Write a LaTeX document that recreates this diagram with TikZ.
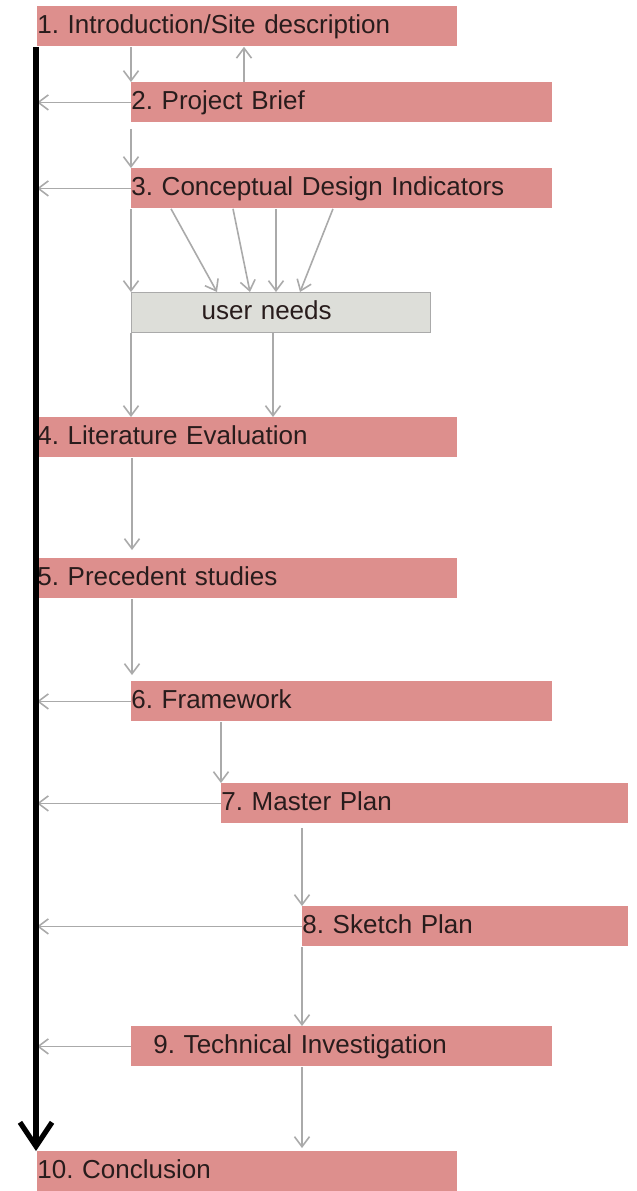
\documentclass[tikz,border=0pt]{standalone}
\usepackage{fontspec}
\newfontfamily\stagefont{Liberation Sans}
\usetikzlibrary{arrows.meta}
\definecolor{stagepink}{RGB}{221,143,141}
\definecolor{needgray}{RGB}{221,222,217}
\definecolor{flowgray}{RGB}{170,170,170}
\definecolor{ink}{RGB}{40,28,28}
\tikzset{
    stage/.style={fill=stagepink, text=ink, anchor=north west, minimum height=20pt,
        inner sep=0pt, text height=9.5pt, text depth=2.6pt, align=left,
        font={\stagefont\fontsize{13}{15}\selectfont\frenchspacing}},
    flow/.style={draw=flowgray, line width=0.8pt, -{Straight Barb[length=5pt,width=7.5pt]}},
    spine/.style={draw=black, line width=2.6pt, -{Straight Barb[length=12pt,width=16pt]}}
}

\begin{document}
\begin{tikzpicture}[x=0.5pt,y=-0.5pt]
            \useasboundingbox (0,0) rectangle (637,1191);

            % stages, placed by their top left corners
            \node[stage, text width=210pt] (b1) at (37,6) {1. Introduction/Site description};
            \node[stage, text width=210.5pt] (b2) at (131,82) {2. Project Brief};
            \node[stage, text width=210.5pt] (b3) at (131,168) {3. Conceptual Design Indicators};
            \node[stage, text width=149.5pt, fill=needgray, draw=flowgray, line width=0.6pt] (un) at (131,292) {\hspace*{35pt}user needs};
            \node[stage, text width=210pt] (b4) at (37,417) {4. Literature Evaluation};
            \node[stage, text width=210pt] (b5) at (37,558) {5. Precedent studies};
            \node[stage, text width=210.5pt] (b6) at (131,681) {6. Framework};
            \node[stage, text width=203.5pt] (b7) at (221,783) {7. Master Plan};
            \node[stage, text width=163pt] (b8) at (302,906) {8. Sketch Plan};
            \node[stage, text width=210.5pt] (b9) at (131,1026) {\hspace*{11pt}9. Technical Investigation};
            \node[stage, text width=210pt] (b10) at (37,1151) {10. Conclusion};

            % downward flow
            \draw[flow] (b2.north west |- b1.south) -- (b2.north west);
            \draw[flow] ([xshift=56.5pt]b2.north west) -- ([xshift=56.5pt]b2.north west |- b1.south);
            \draw[flow, shorten <=3pt] (b2.south west) -- (b2.south west |- b3.north);
            \draw[flow] (b3.south west) -- (un.north west);
            \foreach \a/\b in {20/43, 51/59.5, 72.5/72.5, 101/84.5}
                \draw[flow] ([xshift=\a pt]b3.south west) -- ([xshift=\b pt]un.north west);
            \draw[flow] (un.south west) -- (un.south west |- b4.north);
            \draw[flow] ([xshift=71pt]un.south west) -- ([xshift=71pt]un.south west |- b4.north);
            \draw[flow, shorten >=4pt] ([xshift=47.5pt]b4.south west) -- ([xshift=47.5pt]b4.south west |- b5.north);
            \draw[flow, shorten >=3pt] ([xshift=47.5pt]b5.south west) -- ([xshift=47.5pt]b5.south west |- b6.north);
            \draw[flow] (b7.north west |- b6.south) -- (b7.north west);
            \draw[flow, shorten <=2pt] (b8.north west |- b7.south) -- (b8.north west);
            \draw[flow] (b8.south west) -- (b8.south west |- b9.north);
            \draw[flow, shorten >=1.5pt] (b8.south west |- b9.south) -- (b8.south west |- b10.north);

            % feedback to the spine
            \foreach \s in {b2,b3,b6,b7,b8,b9}
                \draw[flow] (\s.west) -- (\s.west -| b1.south west);

            \draw[spine] ([xshift=-0.5pt]b1.south west) -- ([xshift=-0.5pt]b10.north west);
        \end{tikzpicture}
\end{document}
